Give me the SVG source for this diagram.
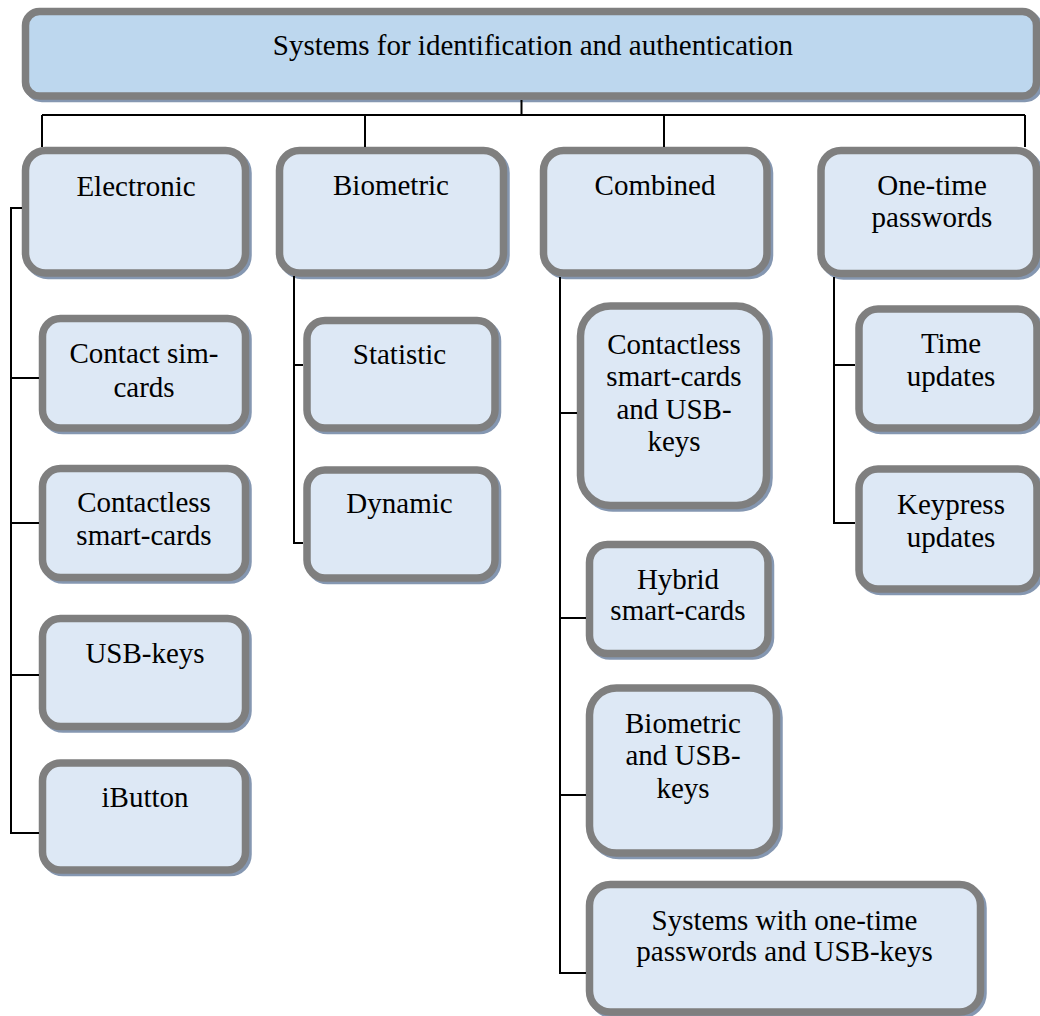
<svg xmlns="http://www.w3.org/2000/svg" width="1040" height="1016" viewBox="0 0 1040 1016">
<style>
.sh{fill:#8597b1;stroke:#8597b1;stroke-width:7.5}
.bx{fill:#dde8f5;stroke:#7f7f7f;stroke-width:7.5}
.top{fill:#bdd7ee;stroke:#7f7f7f;stroke-width:7.5}
text{font-family:"Liberation Serif","Times New Roman",serif;font-size:29px;fill:#000;text-anchor:middle}
.ln{fill:none;stroke:#000;stroke-width:2}
</style>
<rect width="1040" height="1016" fill="#fff"/>
<g id="root">
<rect class="sh" x="28" y="14" width="1011" height="84.5" rx="14"/>
<rect class="top" x="25.5" y="11.5" width="1011" height="84.5" rx="14"/>
<text x="533" y="55">Systems for identification and authentication</text>
</g>
<g id="electronic">
<rect class="sh" x="28" y="153" width="220" height="122.5" rx="20"/>
<rect class="bx" x="25.5" y="150.5" width="220" height="122.5" rx="20"/>
<text x="136" y="196">Electronic</text>
</g>
<g id="biometric">
<rect class="sh" x="282" y="153" width="224" height="122.5" rx="20"/>
<rect class="bx" x="279.5" y="150.5" width="224" height="122.5" rx="20"/>
<text x="391" y="195">Biometric</text>
</g>
<g id="combined">
<rect class="sh" x="546" y="153" width="223.5" height="122.5" rx="20"/>
<rect class="bx" x="543.5" y="150.5" width="223.5" height="122.5" rx="20"/>
<text x="655" y="195">Combined</text>
</g>
<g id="onetime">
<rect class="sh" x="823.5" y="153" width="215.5" height="123" rx="20"/>
<rect class="bx" x="821" y="150.5" width="215.5" height="123" rx="20"/>
<text x="932" y="195">One-time</text>
<text x="932" y="227">passwords</text>
</g>
<g id="contact-sim">
<rect class="sh" x="45" y="321" width="203" height="109.5" rx="18"/>
<rect class="bx" x="42.5" y="318.5" width="203" height="109.5" rx="18"/>
<text x="144" y="363">Contact sim-</text>
<text x="144" y="396.5">cards</text>
</g>
<g id="contactless">
<rect class="sh" x="45" y="471" width="203" height="109" rx="18"/>
<rect class="bx" x="42.5" y="468.5" width="203" height="109" rx="18"/>
<text x="144" y="511.5">Contactless</text>
<text x="144" y="545">smart-cards</text>
</g>
<g id="usb-keys">
<rect class="sh" x="45" y="621" width="203" height="108" rx="18"/>
<rect class="bx" x="42.5" y="618.5" width="203" height="108" rx="18"/>
<text x="145" y="662.5">USB-keys</text>
</g>
<g id="ibutton">
<rect class="sh" x="45" y="765.5" width="203" height="107" rx="18"/>
<rect class="bx" x="42.5" y="763" width="203" height="107" rx="18"/>
<text x="145" y="806.5">iButton</text>
</g>
<g id="statistic">
<rect class="sh" x="309.5" y="323" width="188" height="107.5" rx="18"/>
<rect class="bx" x="307" y="320.5" width="188" height="107.5" rx="18"/>
<text x="399.5" y="363.5">Statistic</text>
</g>
<g id="dynamic">
<rect class="sh" x="309.5" y="472.5" width="188" height="108" rx="18"/>
<rect class="bx" x="307" y="470" width="188" height="108" rx="18"/>
<text x="399.5" y="513">Dynamic</text>
</g>
<g id="contactless-usb">
<rect class="sh" x="583" y="308.5" width="186" height="199.5" rx="30"/>
<rect class="bx" x="580.5" y="306" width="186" height="199.5" rx="30"/>
<text x="674" y="353.5">Contactless</text>
<text x="674" y="386">smart-cards</text>
<text x="674" y="418.5">and USB-</text>
<text x="674" y="451">keys</text>
</g>
<g id="hybrid">
<rect class="sh" x="592" y="547" width="178.5" height="109" rx="18"/>
<rect class="bx" x="589.5" y="544.5" width="178.5" height="109" rx="18"/>
<text x="678" y="588.5">Hybrid</text>
<text x="678" y="620">smart-cards</text>
</g>
<g id="biometric-usb">
<rect class="sh" x="592" y="690.5" width="187" height="165" rx="27"/>
<rect class="bx" x="589.5" y="688" width="187" height="165" rx="27"/>
<text x="683" y="732.5">Biometric</text>
<text x="683" y="765">and USB-</text>
<text x="683" y="797.5">keys</text>
</g>
<g id="otp-usb">
<rect class="sh" x="592" y="887" width="391" height="127.5" rx="21"/>
<rect class="bx" x="589.5" y="884.5" width="391" height="127.5" rx="21"/>
<text x="784.5" y="930">Systems with one-time</text>
<text x="784.5" y="961">passwords and USB-keys</text>
</g>
<g id="time-updates">
<rect class="sh" x="861.5" y="311.5" width="178" height="119" rx="19"/>
<rect class="bx" x="859" y="309" width="178" height="119" rx="19"/>
<text x="951" y="352.5">Time</text>
<text x="951" y="386">updates</text>
</g>
<g id="keypress-updates">
<rect class="sh" x="861.5" y="471.5" width="178" height="120" rx="19"/>
<rect class="bx" x="859" y="469" width="178" height="120" rx="19"/>
<text x="951" y="513.5">Keypress</text>
<text x="951" y="547">updates</text>
</g>
<g id="connectors" class="ln">
<path class="ln" d="M521.5 100V115M42 115H1025M42 115V147M365 115V147M664 115V147M1025 115V147"/>
<path class="ln" d="M22 208H11V833H39M11 378H39M11 523H39M11 675H39"/>
<path class="ln" d="M294 276V543H303M294 365H303"/>
<path class="ln" d="M560 277V973H586M560 413H577M560 618H586M560 795H586"/>
<path class="ln" d="M834 277V523H855M834 365H855"/>
</g>
</svg>
